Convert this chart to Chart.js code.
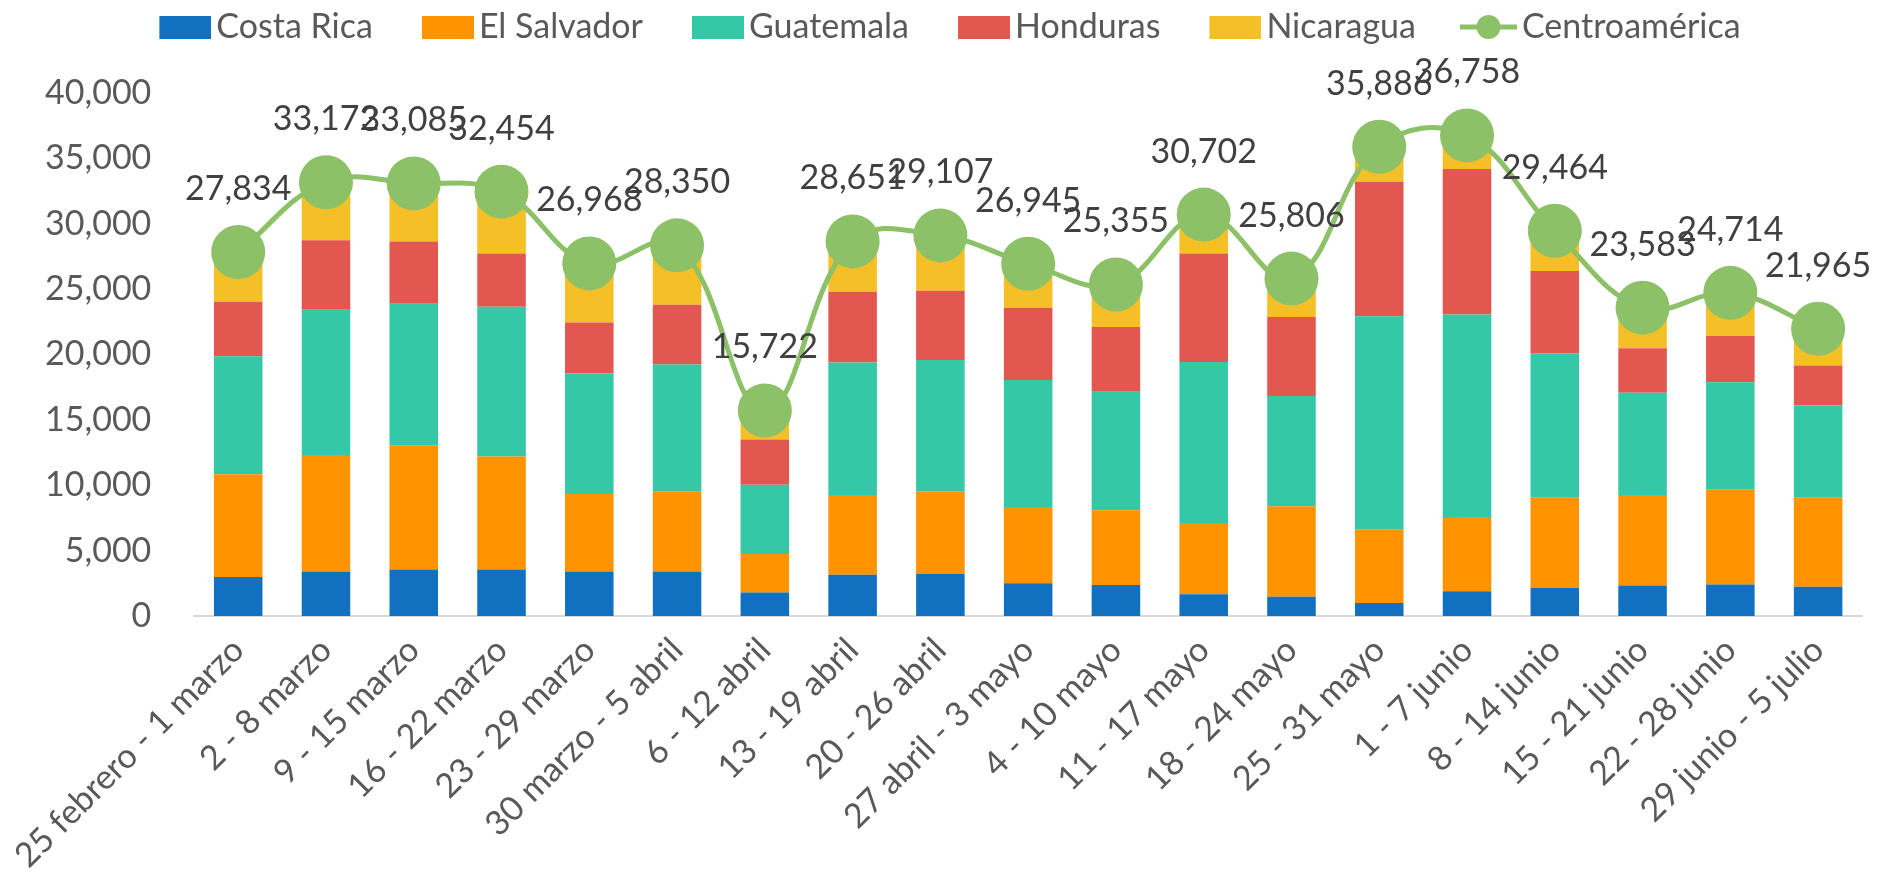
<!DOCTYPE html>
<html lang="es">
<head>
<meta charset="utf-8">
<title>Centroamérica por semana</title>
<script src="https://cdn.jsdelivr.net/npm/chart.js@4.4.1/dist/chart.umd.min.js"></script>
<style>
html, body { margin: 0; padding: 0; background: #fff; }
#contenedor { width: 1889px; height: 882px; position: relative; }
</style>
</head>
<body>
<div id="contenedor"><canvas id="grafico"></canvas></div>
<script>
var semanas = ['25 febrero - 1 marzo', '2 - 8 marzo', '9 - 15 marzo', '16 - 22 marzo', '23 - 29 marzo',
    '30 marzo - 5 abril', '6 - 12 abril', '13 - 19 abril', '20 - 26 abril', '27 abril - 3 mayo',
    '4 - 10 mayo', '11 - 17 mayo', '18 - 24 mayo', '25 - 31 mayo', '1 - 7 junio',
    '8 - 14 junio', '15 - 21 junio', '22 - 28 junio', '29 junio - 5 julio'];

var costaRica  = [2980, 3400, 3550, 3550, 3400, 3400, 1790, 3150, 3230, 2500, 2380, 1670, 1480, 990, 1900, 2160, 2330, 2410, 2240];
var elSalvador = [7860, 8910, 9500, 8650, 5930, 6100, 2950, 6100, 6270, 5840, 5710, 5450, 6920, 5650, 5670, 6890, 6920, 7290, 6810];
var guatemala  = [9020, 11120, 10840, 11460, 9220, 9730, 5300, 10130, 10070, 9700, 9070, 12310, 8420, 16280, 15490, 11040, 7830, 8170, 7040];
var honduras   = [4170, 5310, 4760, 4060, 3890, 4570, 3460, 5410, 5310, 5530, 4940, 8290, 6050, 10300, 11120, 6290, 3400, 3550, 3060];
var nicaragua  = [3800, 4430, 4440, 4730, 4530, 4550, 2220, 3860, 4230, 3380, 3260, 2980, 2940, 2670, 2580, 3080, 3100, 3290, 2820];
var centroamerica = [27834, 33172, 33085, 32454, 26968, 28350, 15722, 28651, 29107, 26945, 25355, 30702, 25806, 35886, 36758, 29464, 23583, 24714, 21965];

var colores = ['#1170C0', '#FF9300', '#34C8A7', '#E35751', '#F5BF26'];
var verde = '#8CC168';
var fuente = 'Lato, "Noto Sans", sans-serif';

// iconos de la leyenda: caja de color (o linea con circulo) pegada a la derecha
var anchoIcono = 79;
function cajaLeyenda(color) {
    var c = document.createElement('canvas');
    c.width = anchoIcono + 24; c.height = 23;
    var g = c.getContext('2d');
    g.fillStyle = color;
    g.fillRect(c.width - 52, 0, 52, 23);
    return c;
}
function lineaLeyenda(color) {
    var c = document.createElement('canvas');
    c.width = anchoIcono + 24; c.height = 26;
    var g = c.getContext('2d');
    g.strokeStyle = color; g.lineWidth = 5;
    g.beginPath(); g.moveTo(c.width - 57, 13); g.lineTo(c.width, 13); g.stroke();
    g.fillStyle = color;
    g.beginPath(); g.arc(c.width - 28.5, 13, 12, 0, Math.PI * 2); g.fill();
    return c;
}
var iconos = colores.map(cajaLeyenda).concat([lineaLeyenda(verde)]);

function barra(nombre, valores, color) {
    return { type: 'bar', label: nombre, data: valores, backgroundColor: color, borderWidth: 0,
        stack: 'paises', order: 1, barPercentage: 0.553, categoryPercentage: 1 };
}

// etiquetas con el total encima de cada punto de la linea
var etiquetasTotal = {
    id: 'etiquetasTotal',
    afterDatasetsDraw: function(chart) {
        var meta = chart.getDatasetMeta(5);
        var ctx = chart.ctx;
        ctx.save();
        ctx.font = '34px ' + fuente;
        ctx.fillStyle = '#404040';
        ctx.textAlign = 'center';
        ctx.textBaseline = 'middle';
        meta.data.forEach(function(p, i) {
            ctx.fillText(centroamerica[i].toLocaleString('en-US'), p.x, p.y - 63);
        });
        ctx.restore();
    }
};

// espacio extra debajo de la leyenda y pequeño corrimiento a la izquierda
var margenLeyenda = {
    id: 'margenLeyenda',
    beforeInit: function(chart) {
        var leyenda = chart.legend;
        var fit = leyenda.fit;
        var draw = leyenda.draw;
        leyenda.fit = function() {
            fit.call(leyenda);
            leyenda.height += 39;
        };
        leyenda.draw = function() {
            chart.ctx.save();
            chart.ctx.translate(-13, 0);
            draw.call(leyenda);
            chart.ctx.restore();
        };
    }
};

var ctx = document.getElementById('grafico');
new Chart(ctx, {
    data: {
        labels: semanas,
        datasets: [
            barra('Costa Rica', costaRica, colores[0]),
            barra('El Salvador', elSalvador, colores[1]),
            barra('Guatemala', guatemala, colores[2]),
            barra('Honduras', honduras, colores[3]),
            barra('Nicaragua', nicaragua, colores[4]),
            {
                type: 'line', label: 'Centroamérica', data: centroamerica, order: 0,
                borderColor: verde, backgroundColor: verde, borderWidth: 5,
                pointRadius: 27, pointHoverRadius: 27, pointBorderWidth: 0,
                pointBackgroundColor: verde, tension: 0.4
            }
        ]
    },
    options: {
        responsive: true,
        maintainAspectRatio: false,
        animation: false,
        layout: { padding: { left: 10, right: 12, top: 0, bottom: 0 } },
        plugins: {
            tooltip: { enabled: false },
            legend: {
                position: 'top',
                labels: {
                    usePointStyle: true,
                    pointStyleWidth: anchoIcono,
                    padding: 10,
                    color: '#595959',
                    font: { family: fuente, size: 34 },
                    sort: function(a, b) { return a.datasetIndex - b.datasetIndex; },
                    generateLabels: function(chart) {
                        var items = Chart.defaults.plugins.legend.labels.generateLabels(chart);
                        items.forEach(function(it) { it.pointStyle = iconos[it.datasetIndex]; });
                        return items;
                    }
                }
            }
        },
        scales: {
            x: {
                stacked: true,
                grid: { display: false },
                border: { display: true, color: '#D9D9D9', width: 2 },
                ticks: {
                    color: '#595959',
                    font: { family: fuente, size: 34 },
                    minRotation: 45, maxRotation: 45, padding: 6
                },
                // la ultima etiqueta no necesita margen a la derecha
                afterFit: function(escala) { escala.paddingRight = 0; }
            },
            y: {
                stacked: true,
                min: 0, max: 40000,
                grid: { display: false },
                border: { display: false },
                ticks: {
                    stepSize: 5000,
                    padding: 35,
                    color: '#595959',
                    font: { family: fuente, size: 34 },
                    callback: function(v) { return v.toLocaleString('en-US'); }
                }
            }
        }
    },
    plugins: [etiquetasTotal, margenLeyenda]
});
</script>
</body>
</html>
